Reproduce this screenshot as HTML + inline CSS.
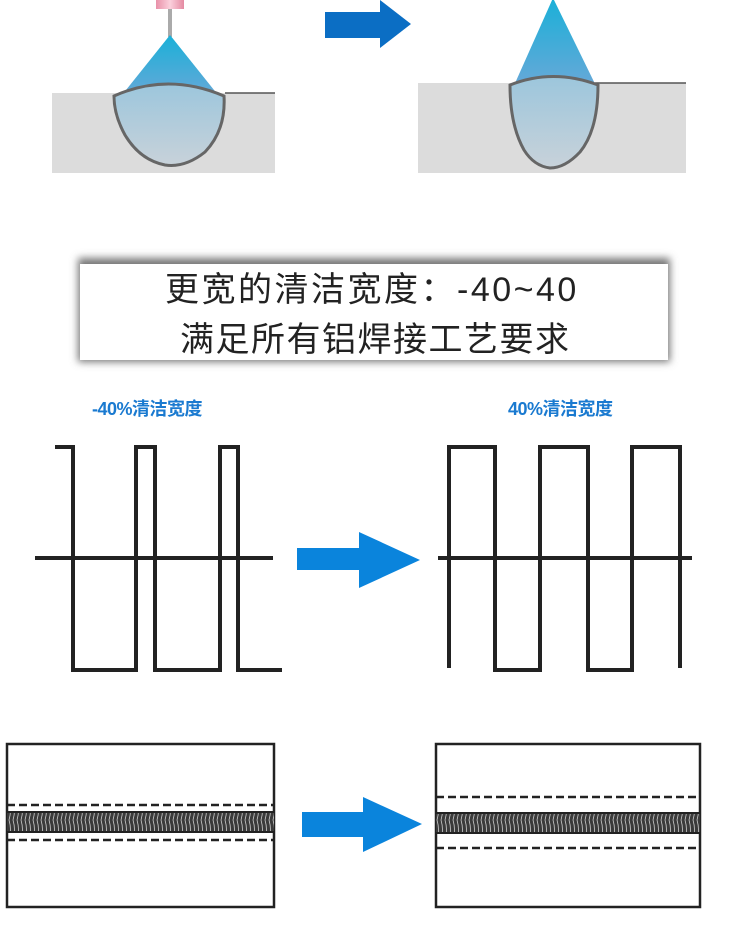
<!DOCTYPE html>
<html><head><meta charset="utf-8"><style>
body{margin:0;background:#fff;width:750px;height:930px;overflow:hidden;position:relative;font-family:"Liberation Sans","Noto Sans CJK SC",sans-serif}
.t{position:absolute;white-space:nowrap;color:#222}
</style></head><body>
<svg width="750" height="930" style="position:absolute;left:0;top:0">
<defs>
<linearGradient id="cone" x1="0" y1="0" x2="0" y2="1"><stop offset="0" stop-color="#1ab0d8"/><stop offset="1" stop-color="#6aa8d8"/></linearGradient>
<linearGradient id="pool" x1="0" y1="0" x2="0" y2="1"><stop offset="0" stop-color="#9cc6dc"/><stop offset="1" stop-color="#c8d2da"/></linearGradient>
<linearGradient id="pink" x1="0" y1="0" x2="1" y2="0"><stop offset="0" stop-color="#e890a8"/><stop offset="0.5" stop-color="#fbd0dc"/><stop offset="1" stop-color="#e48aa2"/></linearGradient>
<pattern id="weld" width="4" height="20" patternUnits="userSpaceOnUse"><rect width="4" height="20" fill="#3a3a3a"/><path d="M1 0 Q4 10 1 20" stroke="#ccc" stroke-width="0.8" fill="none"/></pattern>
<filter id="sh" x="-5%" y="-20%" width="110%" height="140%"><feGaussianBlur stdDeviation="4"/></filter>
</defs>
<!-- top left -->
<rect x="52" y="93" width="223" height="80" fill="#dcdcdc"/>
<line x1="225" y1="93" x2="275" y2="93" stroke="#555" stroke-width="1.5"/>
<rect x="156" y="0" width="28" height="9" fill="url(#pink)"/>
<rect x="168" y="9" width="4" height="28" fill="#aaa"/>
<polygon points="170,35 118,100 222,100" fill="url(#cone)"/>
<path d="M114 96 Q168 72 224 96 Q226 130 205 152 Q185 168 165 165 Q140 160 125 135 Q114 115 114 96 Z" fill="url(#pool)" stroke="#666" stroke-width="3"/>
<!-- top arrow -->
<polygon points="325,12 380,12 380,0 411,24 380,48 380,38 325,38" fill="#0b6ec4"/>
<!-- top right -->
<rect x="418" y="83" width="268" height="90" fill="#dcdcdc"/>
<line x1="595" y1="83" x2="686" y2="83" stroke="#555" stroke-width="1.5"/>
<polygon points="553,-2 512,90 598,90" fill="url(#cone)"/>
<path d="M510 85 Q553 68 598 85 Q598 130 580 152 Q565 168 550 168 Q534 166 524 150 Q510 125 510 85 Z" fill="url(#pool)" stroke="#666" stroke-width="3"/>
<!-- text box -->
<rect x="78" y="258" width="592" height="104" fill="#777" filter="url(#sh)"/>
<rect x="80" y="264" width="588" height="96" fill="#fff"/>
<!-- waveform -->
<g fill="none" stroke="#222" stroke-width="4">
<line x1="35" y1="558" x2="273" y2="558"/>
<polyline points="55,447 73,447 73,670 136,670 136,447 155,447 155,670 220,670 220,447 238,447 238,670 282,670"/>
<line x1="438" y1="558" x2="692" y2="558"/>
<polyline points="449,668 449,447 495,447 495,670 540,670 540,447 588,447 588,670 632,670 632,447 680,447 680,668"/>
</g>
<polygon points="297,548 359,548 359,532 420,560 359,588 359,570 297,570" fill="#0a84dc"/>
<!-- bottom boxes -->
<rect x="7" y="744" width="267" height="163" fill="none" stroke="#222" stroke-width="2.5"/>
<rect x="7" y="812" width="267" height="20" fill="url(#weld)"/>
<line x1="7" y1="812" x2="274" y2="812" stroke="#222" stroke-width="2"/>
<line x1="7" y1="832" x2="274" y2="832" stroke="#222" stroke-width="2"/>
<line x1="7" y1="805" x2="274" y2="805" stroke="#222" stroke-width="2.5" stroke-dasharray="8,4"/>
<line x1="7" y1="840" x2="274" y2="840" stroke="#222" stroke-width="2.5" stroke-dasharray="8,4"/>
<polygon points="302,812 363,812 363,797 422,824 363,852 363,837 302,837" fill="#0a84dc"/>
<rect x="436" y="744" width="264" height="163" fill="none" stroke="#222" stroke-width="2.5"/>
<rect x="436" y="813" width="264" height="20" fill="url(#weld)"/>
<line x1="436" y1="813" x2="700" y2="813" stroke="#222" stroke-width="2"/>
<line x1="436" y1="833" x2="700" y2="833" stroke="#222" stroke-width="2"/>
<line x1="436" y1="797" x2="700" y2="797" stroke="#222" stroke-width="2.5" stroke-dasharray="8,4"/>
<line x1="436" y1="848" x2="700" y2="848" stroke="#222" stroke-width="2.5" stroke-dasharray="8,4"/>
</svg>
<div class="t" style="left:165px;top:262px;font-size:34px;letter-spacing:2.5px">更宽的清洁宽度：-40~40</div>
<div class="t" style="left:180px;top:312px;font-size:34px;letter-spacing:1.5px">满足所有铝焊接工艺要求</div>
<div class="t" style="left:92px;top:395px;font-size:18px;font-weight:bold;color:#1a7ad0;letter-spacing:-0.5px">-40%清洁宽度</div>
<div class="t" style="left:508px;top:395px;font-size:18px;font-weight:bold;color:#1a7ad0;letter-spacing:-0.5px">40%清洁宽度</div>
</body></html>
